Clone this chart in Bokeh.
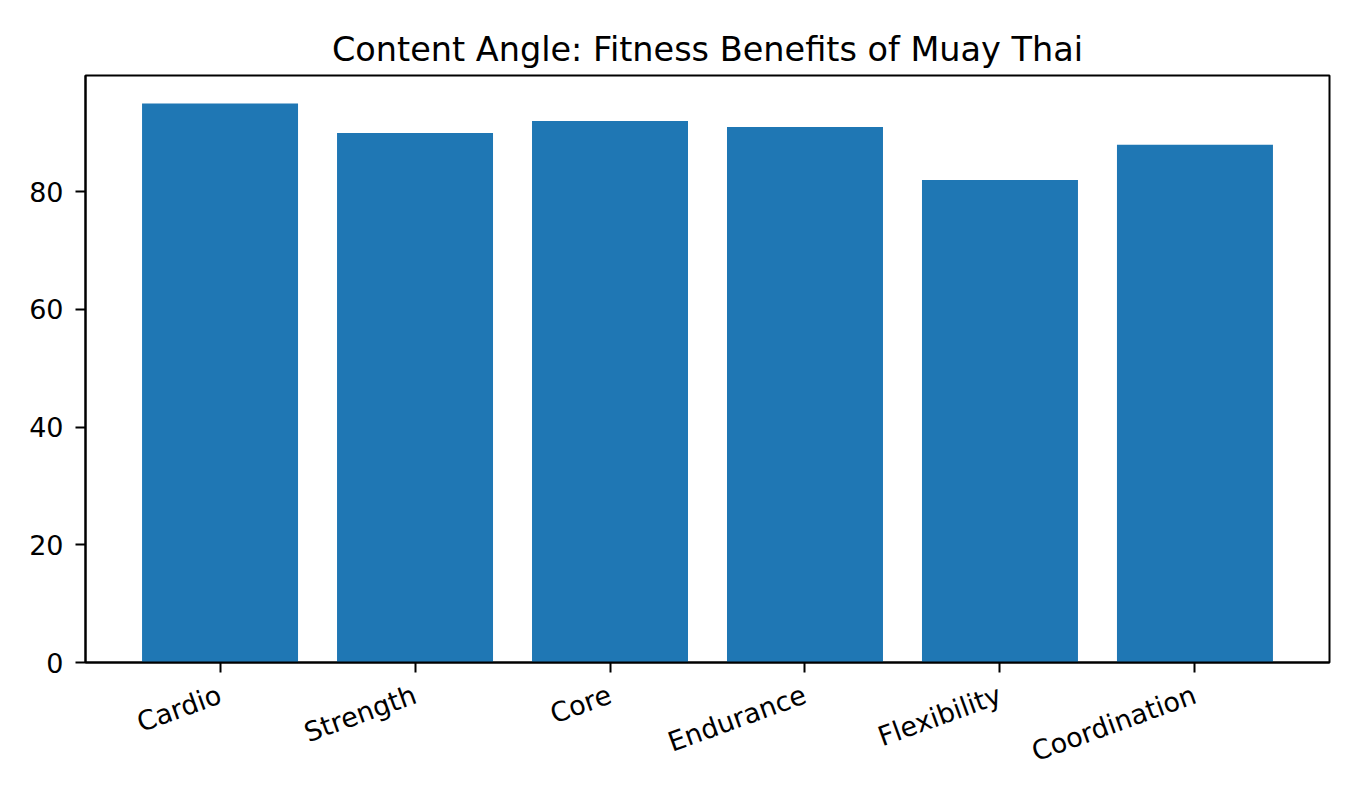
import math
from bokeh.plotting import figure
from bokeh.models import Range1d, FactorRange, ColumnDataSource
from bokeh.embed import file_html
from bokeh.resources import INLINE

categories = ["Cardio", "Strength", "Core", "Endurance", "Flexibility", "Coordination"]
values = [95, 90, 92, 91, 82, 88]
title_text = "Content Angle: Fitness Benefits of Muay Thai"
y_ticks = [0, 20, 40, 60, 80]

src = ColumnDataSource(dict(cat=categories, val=values))

p = figure(width=1344, height=784, output_backend="svg", toolbar_location=None,
           x_range=FactorRange(*categories),
           y_range=Range1d(0, max(values) * 1.05),
           title=title_text,
           min_border_left=85, min_border_right=15, min_border_top=75, min_border_bottom=122)
p.x_range.range_padding = 0.38 / 6
p.x_range.range_padding_units = "percent"

p.vbar(x="cat", top="val", width=0.8, source=src, color="#1f77b4", line_color=None)

p.grid.visible = False
p.outline_line_color = "black"
p.outline_line_width = 2

p.title.text_font = "DejaVu Sans"
p.title.text_font_size = "33.5px"
p.title.text_font_style = "normal"
p.title.text_color = "black"
p.title.align = "center"
p.title.standoff = 14

for ax in (p.xaxis[0], p.yaxis[0]):
    ax.axis_line_color = "black"
    ax.axis_line_width = 2
    ax.major_tick_line_width = 2
    ax.major_tick_out = 10
    ax.major_tick_in = 0
    ax.minor_tick_out = 0
    ax.minor_tick_in = 0
    ax.major_label_text_font = "DejaVu Sans"
    ax.major_label_text_font_size = "27px"
    ax.major_label_text_color = "black"

p.yaxis.ticker = y_ticks
p.yaxis.major_label_standoff = 12
p.xaxis.major_label_orientation = math.radians(20)
p.xaxis.major_label_standoff = 21

open("out.html", "w").write(file_html(p, INLINE))
